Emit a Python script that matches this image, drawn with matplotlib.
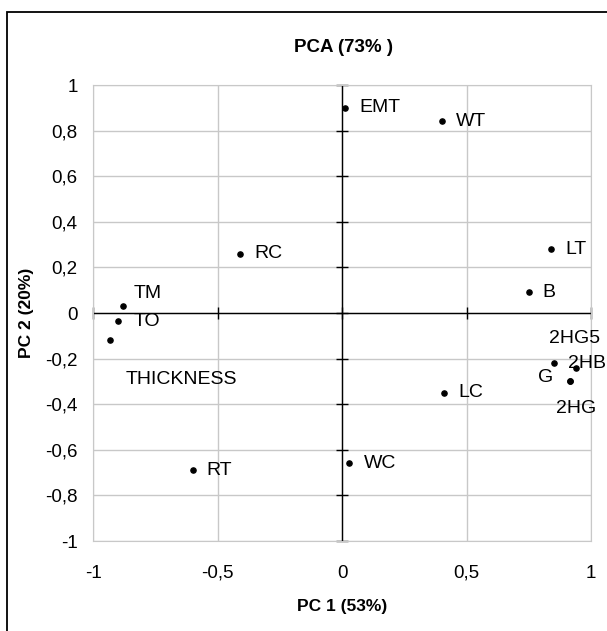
import matplotlib
import matplotlib.pyplot as plt
from matplotlib.patches import Rectangle

matplotlib.use('Agg')
plt.rcParams['font.family'] = ['Liberation Sans', 'DejaVu Sans']

# loadings
names = ['EMT', 'WT', 'RC', 'LT', 'B', 'TM', 'TO', 'THICKNESS',
         'LC', '2HB', '2HG5', 'G', '2HG', 'RT', 'WC']
pc1 = [0.012, 0.40, -0.41, 0.84, 0.75, -0.88, -0.90, -0.93,
       0.41, 0.85, 0.94, 0.915, 0.915, -0.60, 0.03]
pc2 = [0.90, 0.84, 0.26, 0.28, 0.09, 0.03, -0.035, -0.12,
       -0.35, -0.22, -0.24, -0.30, -0.30, -0.69, -0.66]

# label offsets in pixels (dx, dy), default is to the right of the point
offsets = {'TM': (11, 13), 'TO': (16, -1), 'THICKNESS': (15, -39),
           '2HG5': (-27, 29), 'G': (-32, 4), '2HG': (-14, -27)}

xticks = [-1, -0.5, 0, 0.5, 1]
xlabels = ['-1', '-0,5', '0', '0,5', '1']
yticks = [-1, -0.8, -0.6, -0.4, -0.2, 0, 0.2, 0.4, 0.6, 0.8, 1]
ylabels = ['-1', '-0,8', '-0,6', '-0,4', '-0,2', '0', '0,2', '0,4', '0,6', '0,8', '1']

fig = plt.figure(figsize=(6.07, 6.31), dpi=100)
ax = fig.add_axes([93 / 607, 1 - 541 / 631, 498 / 607, 456 / 631])

# outer frame of the chart object, runs off the right and bottom edge
fig.patches.append(Rectangle((7 / 607, -0.1), 1.2, 1.1 - 12 / 631,
                             transform=fig.transFigure, fill=False,
                             edgecolor='black', linewidth=1.3))

ax.set_xlim(-1, 1)
ax.set_ylim(-1, 1)
ax.set_xticks(xticks)
ax.set_xticklabels(xlabels)
ax.set_yticks(yticks)
ax.set_yticklabels(ylabels)
ax.tick_params(axis='both', length=0, labelsize=13.5)
ax.tick_params(axis='x', pad=17)
ax.tick_params(axis='y', pad=11)
ax.grid(color='#c8c8c8', linewidth=1)
ax.set_axisbelow(True)
for s in ax.spines.values():
    s.set_color('#c8c8c8')

ax.axhline(0, color='black', linewidth=1, zorder=2)
ax.axvline(0, color='black', linewidth=1, zorder=2)
ax.plot(xticks, [0] * len(xticks), '|', color='black', markersize=8, zorder=2, clip_on=False)
ax.plot([0] * len(yticks), yticks, '_', color='black', markersize=8, zorder=2, clip_on=False)

ax.scatter(pc1, pc2, s=14, color='black', zorder=3)
for n, x, y in zip(names, pc1, pc2):
    dx, dy = offsets.get(n, (14, 0))
    ax.annotate(n, (x, y), xytext=(dx, dy), textcoords='offset pixels',
                ha='left', va='center', fontsize=14, annotation_clip=False)

fig.text(343 / 607, 1 - 47 / 631, 'PCA (73% )', ha='center', va='center',
         fontsize=13.5, fontweight='bold')
fig.text(342 / 607, 1 - 606 / 631, 'PC 1 (53%)', ha='center', va='center',
         fontsize=12.5, fontweight='bold')
fig.text(27 / 607, 1 - 313 / 631, 'PC 2 (20%)', ha='center', va='center',
         fontsize=12.5, fontweight='bold', rotation=90)

fig.savefig('out.png', dpi=100)
